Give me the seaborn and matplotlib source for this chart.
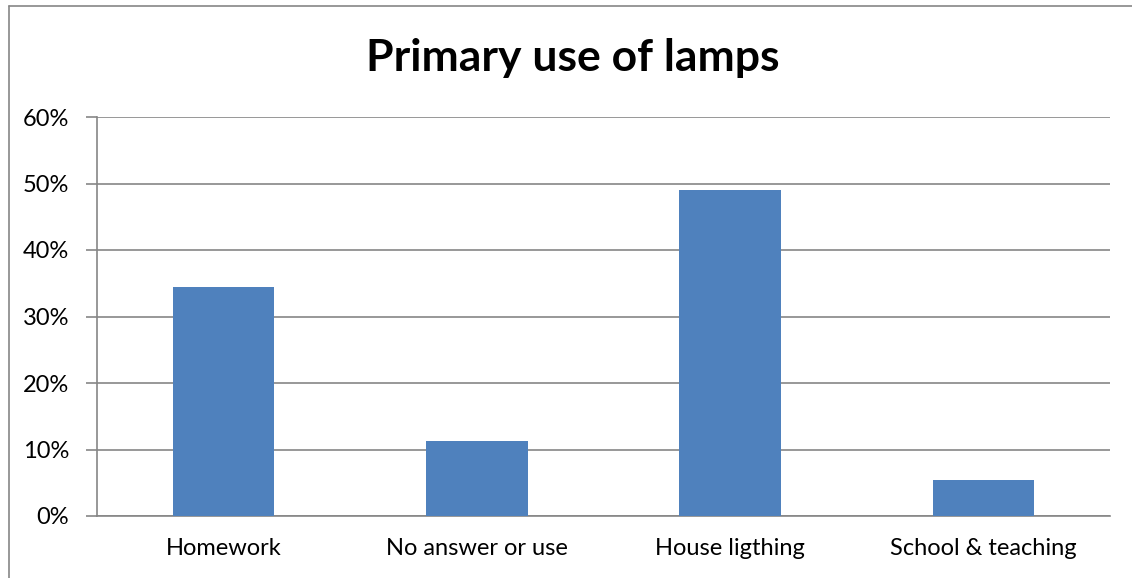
import matplotlib
matplotlib.use("Agg")
import matplotlib.pyplot as plt
from matplotlib.lines import Line2D
from matplotlib.ticker import FuncFormatter
import seaborn as sns
import pandas as pd

categories = ["Homework", "No answer or use", "House ligthing", "School & teaching"]
shares = [0.344, 0.113, 0.490, 0.054]
y_ticks = [0.0, 0.1, 0.2, 0.3, 0.4, 0.5, 0.6]

sns.set_theme(style="white")
plt.rcParams["font.family"] = ["Lato", "DejaVu Sans"]

grey = "#868686"
bar_color = "#4F81BD"

df = pd.DataFrame({"use": categories, "share": shares})

fig = plt.figure(figsize=(11.32, 5.78), dpi=100)
ax = fig.add_axes([97 / 1132, 62 / 578, (1110 - 97) / 1132, (516 - 117) / 578])

sns.barplot(data=df, x="use", y="share", color=bar_color, width=0.4,
            saturation=1, linewidth=0, ax=ax, zorder=3)

ax.set_ylim(0, 0.6)
ax.set_xlim(-0.5, len(categories) - 0.5)
ax.set_yticks(y_ticks)
ax.yaxis.set_major_formatter(FuncFormatter(lambda v, _: f"{v * 100:.0f}%"))
ax.grid(axis="y", color=grey, linewidth=1.2, zorder=0)
ax.set_axisbelow(True)

# category boundary ticks on the x axis
ax.set_xticks([i - 0.5 for i in range(len(categories) + 1)], minor=True)
ax.tick_params(axis="x", which="major", length=0, pad=16, labelsize=17, colors="black")
ax.tick_params(axis="x", which="minor", length=6, width=1.2, color=grey, direction="out")
ax.tick_params(axis="y", which="major", length=8, width=1.2, color=grey, direction="out",
               pad=12, labelsize=17, labelcolor="black", left=True)

for side in ["top", "right"]:
    ax.spines[side].set_visible(False)
for side in ["left", "bottom"]:
    ax.spines[side].set_color(grey)
    ax.spines[side].set_linewidth(1.2)

ax.set_xlabel("")
ax.set_ylabel("")

fig.text(573 / 1132, 1 - 58 / 578, "Primary use of lamps", ha="center", va="center",
         fontsize=32, fontweight="bold", color="black")

# chart frame (left and top edges)
fx, fy = 8.5 / 1132, 1 - 5.5 / 578
fig.lines.append(Line2D([fx, fx], [0, fy], transform=fig.transFigure,
                        color=grey, linewidth=1.2))
fig.lines.append(Line2D([fx, 1], [fy, fy], transform=fig.transFigure,
                        color=grey, linewidth=1.2))

fig.savefig("out.png", dpi=100, facecolor="white")
